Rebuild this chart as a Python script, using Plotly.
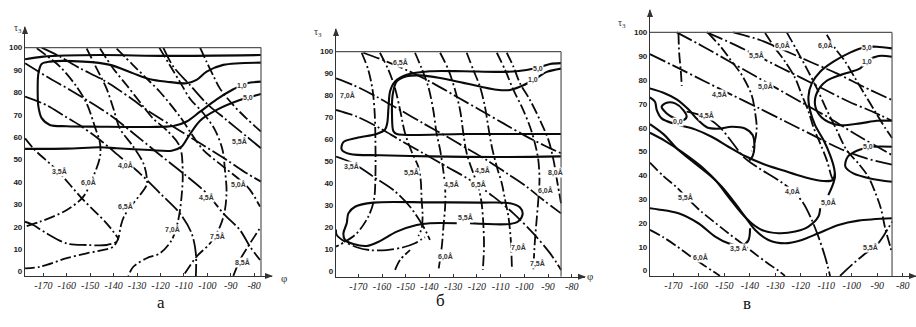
import plotly.graph_objects as go

W, H = 916, 327

# ======================= Panel а =======================
A_TOP = ([-177.8, -170.0, -145.8, -117.4, -77.1], [94.8, 96.0, 96.7, 96.3, 96.7])
A_E10 = ([-77.1, -93.2, -100.3, -104.6, -108.8, -117.4, -124.5, -131.6, -141.5, -152.9, -167.2, -170.7, -172.1,
          -172.4, -172.1, -170.7, -167.2, -160.0, -145.8, -124.5, -114.5, -108.8, -103.1, -96.0, -88.9, -83.2, -77.1],
         [93.3, 92.3, 89.3, 85.6, 84.1, 84.8, 85.9, 88.5, 92.3, 93.75, 93.75, 92.7, 88.5,
          79.6, 73.7, 68.5, 65.5, 64.9, 64.7, 64.6, 65.0, 67.0, 71.4, 76.9, 81.4, 84.1, 84.8])
A_E50 = ([-77.1, -86.1, -96.0, -103.1, -108.1, -111.0, -115.2, -124.5, -138.7, -145.8, -160.0, -177.8],
         [79.3, 76.6, 72.2, 67.4, 60.3, 55.8, 54.0, 54.3, 55.1, 55.5, 54.9, 54.8])
A_D35 = ([-177.8, -173.6, -164.3, -152.9, -143.0, -138.0], [59.5, 54.3, 45.4, 32.0, 21.6, 14.9])
A_D60 = ([-172.8, -162.9, -155.8, -151.5, -148.0, -145.8, -145.8, -148.7, -152.9, -160.0, -171.4, -177.8],
         [99.7, 91.5, 82.6, 75.1, 64.7, 57.3, 51.3, 42.4, 33.5, 27.5, 22.3, 20.1])
A_HOOK = ([-177.8, -174.3, -168.6, -160.0, -151.5, -143.0, -138.7, -138.0],
          [22.3, 20.8, 17.1, 12.6, 11.9, 11.9, 13.4, 14.9])
A_D65 = ([-151.5, -147.2, -143.0, -140.1, -137.3, -131.6, -127.3, -125.9, -125.9, -131.6, -135.6, -137.0, -138.0,
          -140.1, -145.8, -151.5, -160.0, -171.4, -177.8],
         [99.6, 90.6, 81.7, 72.8, 63.8, 55.8, 48.4, 42.4, 38.7, 30.5, 24.6, 20.1, 14.9,
          11.2, 9.4, 8.2, 6.0, 2.2, 1.5])
A_D70 = ([-145.8, -140.1, -134.4, -128.8, -123.1, -117.4, -111.7, -110.5, -111.0, -112.4, -115.2, -120.2, -125.9, -131.6, -133.7],
         [99.6, 90.6, 83.2, 75.7, 68.3, 63.2, 55.8, 43.9, 33.5, 23.1, 14.1, 8.2, 6.0, 2.2, -1.9])
A_D50 = ([-138.7, -131.6, -125.9, -120.2, -111.7, -106.0, -101.7, -93.2, -86.1, -81.8, -77.5],
         [99.6, 92.1, 86.2, 80.2, 69.2, 60.3, 54.3, 46.9, 40.9, 36.5, 29.0])
A_D75 = ([-120.5, -116.0, -111.7, -107.4, -101.7, -96.7, -93.5, -92.5, -91.8, -92.5, -94.6, -98.9, -104.6, -110.3],
         [100.0, 92.1, 84.7, 77.2, 70.7, 63.2, 54.3, 45.4, 36.5, 27.5, 20.1, 12.6, 6.7, -1.9])
A_D55 = ([-118.8, -114.5, -107.4, -100.3, -91.8, -83.2, -77.1], [100.0, 91.5, 83.3, 75.1, 67.7, 60.3, 55.1])
A_DTR = ([-103.1, -100.3, -97.5, -94.6, -88.9, -83.2, -77.1], [100.0, 93.6, 87.6, 81.7, 74.3, 68.3, 62.5])
A_DIAG = ([-170.7, -162.9, -154.4, -145.8, -138.7, -131.6, -125.9, -114.5, -103.1, -91.8, -83.2, -77.1],
          [100.0, 96.0, 90.8, 86.3, 81.8, 76.6, 72.2, 64.7, 57.3, 49.9, 43.9, 40.2])
A_D45 = ([-177.8, -168.6, -158.6, -151.5, -141.5, -131.6, -120.2, -110.3, -100.3, -93.2, -86.1, -81.8, -77.5],
         [93.0, 87.1, 81.1, 76.6, 69.9, 61.8, 52.1, 43.9, 35.0, 26.0, 18.6, 11.2, 5.2])
A_D40 = ([-177.8, -168.6, -161.5, -154.4, -145.8, -137.3, -128.8, -120.2, -111.7, -106.7, -104.9, -104.9],
         [78.1, 74.3, 69.8, 65.3, 58.8, 51.3, 43.9, 35.0, 26.0, 17.1, 8.2, -1.9])
A_D85 = ([-88.9, -86.1, -81.8, -79.0, -77.1], [-1.9, 5.2, 12.6, 17.1, 20.1])

A_CURVES = [("solid", A_TOP), ("solid", A_E10), ("solid", A_E50),
            ("dashdot", A_D35), ("dashdot", A_D60), ("dash", A_HOOK), ("dashdot", A_D65),
            ("dashdot", A_D70), ("dashdot", A_D50), ("dashdot", A_D75), ("dash", A_D55),
            ("dashdot", A_DTR), ("dash", A_DIAG), ("dash", A_D45), ("dash", A_D40), ("dashdot", A_D85)]
A_LABELS = [("1,0", -85.2, 82.9), ("5,0", -82.6, 77.5), ("5,5Å", -86.1, 57.9), ("3,5Å", -162.9, 44.5),
            ("4,0Å", -135.1, 47.6), ("6,0Å", -150.9, 39.6), ("5,0Å", -86.9, 38.7), ("4,5Å", -100.2, 33.3),
            ("6,5Å", -135.1, 28.9), ("7,0Å", -114.7, 18.6), ("7,5Å", -95.5, 15.5), ("8,5Å", -84.8, 4.3)]

# ======================= Panel б =======================
B_E50 = ([-84.5, -111.6, -139.8, -160.9, -173.5, -177.0, -176.3, -170.7, -162.3, -158.8, -157.8, -157.3, -156.6,
          -154.5, -149.6, -139.8, -125.7, -111.6, -103.2, -94.8, -89.1, -84.5],
         [52.4, 52.1, 52.4, 52.9, 53.5, 55.5, 58.9, 60.8, 62.6, 64.5, 67.6, 74.4, 82.0,
          86.5, 89.5, 91.1, 91.1, 90.8, 91.1, 92.6, 94.4, 94.8])
B_E10 = ([-84.5, -125.7, -153.8, -155.2, -155.8, -155.5, -153.8, -149.6, -144.0, -135.5, -125.7, -118.7, -111.6,
          -106.0, -100.4, -94.8, -90.5, -84.5],
         [62.6, 62.6, 62.6, 63.8, 71.4, 80.5, 86.5, 88.8, 89.2, 88.0, 85.8, 84.2, 82.7,
          82.6, 84.7, 88.0, 90.8, 92.3])
B_LOOP = ([-128.5, -139.8, -145.4, -153.8, -160.9, -166.5, -172.1, -175.6, -176.3, -174.9, -174.2, -171.4, -163.7,
           -139.8, -118.7, -106.0, -101.8, -100.7, -102.5, -106.0, -122.9],
          [22.0, 22.0, 21.2, 18.2, 13.9, 11.7, 12.6, 14.4, 17.4, 22.0, 26.5, 29.5, 31.4,
           31.5, 31.4, 31.1, 29.2, 26.2, 22.9, 21.7, 22.0])
B_HOOK = ([-179.4, -179.1, -175.6, -170.7, -165.1, -158.0, -151.0, -146.1, -143.3, -141.9],
          [19.2, 16.7, 13.6, 11.1, 9.8, 9.8, 11.1, 12.9, 14.7, 15.6])
B_D1 = ([-168.6, -165.8, -164.0, -163.1, -162.8, -162.8, -163.4, -165.8, -170.7, -175.6, -179.4],
        [99.5, 91.7, 82.6, 72.0, 59.8, 43.2, 32.6, 25.0, 17.4, 13.6, 11.4])
B_D2 = ([-160.9, -157.3, -154.5, -152.4, -150.3, -147.5, -144.7, -143.7, -143.3, -142.9, -143.3, -144.7],
        [99.5, 91.7, 83.3, 73.5, 62.9, 54.5, 47.7, 41.7, 32.6, 25.8, 19.7, 16.2])
B_D3 = ([-146.1, -143.3, -140.5, -138.4, -137.0, -135.5, -134.4, -133.4, -133.4, -134.1, -134.8, -136.2],
        [99.5, 92.4, 84.1, 73.5, 62.9, 55.3, 47.7, 38.6, 29.5, 20.5, 11.4, 0.8])
B_D4 = ([-135.5, -132.0, -129.2, -127.1, -125.7, -124.3, -121.5, -119.4, -118.0, -117.3, -117.0, -117.5],
        [99.5, 91.7, 82.6, 73.5, 62.9, 53.8, 44.7, 38.6, 31.1, 22.0, 11.4, 0.8])
B_D5 = ([-124.3, -121.5, -118.7, -116.6, -115.2, -113.7, -111.6, -109.5, -108.1, -106.7, -105.7, -105.2],
        [99.5, 91.7, 84.1, 75.0, 65.9, 56.8, 47.7, 40.2, 32.6, 25.0, 14.4, 0.8])
B_D6 = ([-111.6, -108.1, -104.6, -101.1, -97.6, -95.5, -94.1, -93.6, -94.1, -94.8, -95.5, -96.2],
        [99.5, 91.7, 82.6, 75.0, 65.9, 58.3, 50.8, 41.7, 32.6, 23.5, 14.4, 0.8])
B_D7 = ([-107.4, -104.6, -101.8, -97.6, -93.4, -89.8, -87.7, -86.0, -84.5],
        [99.5, 93.2, 85.6, 78.0, 68.9, 59.8, 50.8, 40.2, 31.1])
B_S1 = ([-179.4, -172.1, -162.3, -152.4, -142.6, -132.7, -124.3, -115.9, -107.4, -99.0, -92.0, -84.5],
        [87.9, 84.8, 79.5, 73.5, 67.4, 61.4, 56.1, 50.8, 44.7, 38.6, 32.6, 26.5])
B_S2 = ([-167.9, -158.0, -148.2, -138.4, -128.5, -118.7, -108.8, -99.0, -90.5, -84.5],
        [99.5, 95.5, 90.9, 85.6, 79.5, 73.5, 67.4, 61.4, 56.8, 53.8])
B_S3 = ([-179.4, -170.7, -160.9, -152.4, -142.6, -132.7, -122.9, -113.0, -104.6, -96.2, -89.1, -84.5],
        [73.5, 70.5, 65.2, 59.8, 53.8, 47.7, 41.7, 34.1, 26.5, 17.4, 8.3, 0.8])
B_S4 = ([-179.4, -172.1, -163.7, -155.2, -148.2, -142.6, -139.8], [52.3, 49.2, 43.2, 37.1, 29.5, 20.5, 14.4])
B_S5 = ([-154.5, -152.4, -148.2], [0.8, 5.3, 9.8])

B_CURVES = [("solid", B_E50), ("solid", B_E10), ("solid", B_LOOP), ("dash", B_HOOK),
            ("dashdot", B_D1), ("dashdot", B_D2), ("dashdot", B_D3), ("dashdot", B_D4), ("dashdot", B_D5),
            ("dashdot", B_D6), ("dashdot", B_D7), ("dash", B_S1), ("dash", B_S2), ("dash", B_S3),
            ("dash", B_S4), ("dashdot", B_S5)]
B_LABELS = [("6,5Å", -152.4, 94.9), ("5,0", -94.2, 92.1), ("1,0", -96.3, 87.1), ("7,0Å", -174.4, 80.3),
            ("3,5Å", -172.7, 47.6), ("5,5Å", -147.4, 44.9), ("4,5Å", -130.5, 39.4), ("6,5Å", -119.5, 39.4),
            ("4,5Å", -117.8, 46.2), ("8,0Å", -87.0, 45.3), ("6,0Å", -91.2, 37.1), ("5,5Å", -125.0, 24.8),
            ("7,0Å", -102.6, 10.8), ("6,0Å", -133.4, 6.7), ("7,5Å", -94.6, 3.9)]

# ======================= Panel в =======================
C_E00 = ([-174.6, -172.6, -169.3, -166.1, -164.8, -166.1, -169.3, -172.6, -174.6],
         [68.8, 70.5, 70.2, 67.4, 64.6, 63.2, 63.9, 66.0, 68.8])
C_BUB = ([-179.2, -173.9, -168.7, -164.1, -160.6, -156.7, -152.3, -147.1, -141.9, -138.9, -138.2, -138.9, -140.2],
         [76.5, 74.7, 71.9, 67.7, 63.5, 60.1, 59.6, 60.4, 59.7, 56.9, 52.0, 48.1, 46.2])
C_MID = ([-179.2, -177.2, -176.5, -174.6, -169.3, -161.5, -155.0, -148.4, -141.9, -134.7, -126.8, -119.0, -111.1, -107.5, -106.6],
         [72.7, 70.9, 67.4, 63.9, 61.5, 59.3, 56.2, 52.0, 48.1, 44.8, 42.0, 39.4, 37.6, 38.0, 40.8])
C_E50 = ([-84.2, -90.2, -95.4, -100.7, -107.2, -112.4, -115.7, -117.0, -116.4, -114.4, -111.1, -108.5, -106.9, -106.6, -107.5, -109.2],
         [93.3, 94.0, 93.7, 91.5, 87.7, 83.5, 78.6, 73.0, 67.4, 61.1, 54.8, 48.5, 42.9, 39.4, 35.9, 31.7])
C_E10 = ([-84.2, -89.5, -93.5, -96.7, -103.3, -109.8, -113.5, -114.4, -111.8, -105.2, -96.7, -90.2, -84.2],
         [89.8, 90.1, 88.4, 84.9, 82.5, 79.7, 75.1, 69.5, 64.3, 61.1, 61.8, 62.9, 62.9])
C_E5S = ([-84.2, -91.5, -98.0, -101.7, -102.5, -99.4, -92.8, -84.2],
         [52.0, 52.0, 50.3, 47.6, 43.6, 40.8, 38.7, 37.3])
C_UP = ([-179.2, -173.9, -168.0, -161.5, -153.6, -148.4, -143.2, -139.3, -135.3, -128.8, -122.2, -117.0, -113.1, -112.4],
        [61.5, 57.3, 50.6, 45.0, 38.0, 31.0, 24.1, 19.9, 17.1, 15.7, 16.4, 18.5, 22.7, 26.2])
C_LOW = ([-179.2, -173.3, -166.7, -158.9, -151.0, -145.8, -141.9, -137.9, -132.7, -126.2, -119.6, -113.1, -105.2, -97.4, -84.2],
         [57.9, 54.5, 49.9, 43.6, 35.2, 28.3, 22.7, 17.1, 12.9, 11.5, 12.9, 15.7, 19.2, 21.0, 22.0])
C_E35 = ([-179.2, -175.9, -168.0, -160.2, -153.6, -148.4, -143.2, -140.6, -139.9],
         [26.2, 25.7, 24.1, 19.9, 14.3, 11.5, 10.5, 12.6, 17.8])
C_V1 = ([-168.0, -167.7, -167.1, -166.7], [99.6, 91.2, 84.2, 77.5])
C_D45 = ([-179.2, -168.0, -157.6, -147.1, -136.6, -126.2, -115.7, -105.2, -94.8, -84.2],
         [90.9, 85.0, 79.4, 73.8, 68.3, 62.7, 57.1, 51.5, 47.3, 44.5])
C_D50 = ([-168.7, -158.2, -147.8, -138.6, -129.4, -119.0, -108.5, -98.0, -84.2],
         [100.0, 94.0, 87.7, 82.1, 76.5, 70.2, 63.9, 56.9, 48.5])
C_D55 = ([-156.9, -147.1, -137.9, -128.8, -119.6, -110.5, -101.3, -92.2, -84.2],
         [100.0, 95.4, 90.6, 85.7, 80.8, 75.9, 71.0, 66.9, 62.9])
C_D60 = ([-146.5, -136.0, -126.8, -116.4, -105.9, -95.4, -84.2], [100.0, 96.8, 92.6, 87.7, 82.8, 77.2, 71.6])
C_S300 = ([-156.3, -151.0, -147.1, -143.2, -139.3, -138.0, -137.3, -138.0, -139.3],
          [99.7, 93.4, 87.8, 82.2, 73.8, 66.9, 59.9, 54.3, 50.1])
C_S465 = ([-134.0, -130.1, -126.2, -122.2, -119.6, -117.0, -115.1, -112.4, -109.8, -107.9, -106.9],
          [99.7, 93.4, 87.8, 80.8, 73.8, 66.9, 60.4, 53.4, 46.4, 39.4, 37.3])
C_D40 = ([-164.8, -156.9, -151.7, -147.1, -142.5, -137.3, -128.8, -123.6, -119.0, -115.7, -113.1, -110.5, -108.5],
         [66.7, 64.3, 60.1, 54.1, 47.8, 43.6, 38.0, 33.8, 28.3, 21.3, 14.3, 5.9, -2.2])
C_S650 = ([-109.8, -106.6, -102.6, -98.7, -94.8, -90.9, -86.9, -84.2], [99.0, 93.4, 87.8, 80.8, 73.8, 66.9, 59.9, 55.7])
C_S530 = ([-125.5, -121.6, -117.7, -113.7, -109.8, -105.9, -102.0, -97.4, -93.5, -90.9, -88.6, -86.9, -84.9, -84.2],
          [100.0, 92.6, 84.9, 76.5, 67.4, 59.0, 50.6, 45.0, 39.4, 33.1, 26.2, 17.8, 10.1, 7.3])
C_D55B = ([-179.2, -173.9, -168.7, -164.1, -159.5, -154.3, -148.4, -143.2, -138.6, -133.4, -128.8, -126.2],
          [45.3, 39.7, 35.0, 29.9, 25.2, 20.7, 15.7, 11.5, 7.6, 3.4, 0.0, -2.2])
C_D60B = ([-179.2, -173.9, -168.7, -163.5, -158.2, -154.3, -151.7], [17.1, 14.0, 10.3, 6.2, 2.4, -0.4, -2.2])
C_D55R = ([-104.6, -100.0, -95.4, -90.2, -86.9, -84.2], [-2.2, 2.4, 6.6, 10.8, 15.7, 20.6])

C_CURVES = [("solid", C_E00), ("solid", C_BUB), ("solid", C_MID), ("solid", C_E50), ("solid", C_E10),
            ("solid", C_E5S), ("solid", C_UP), ("solid", C_LOW), ("solid", C_E35),
            ("dashdot", C_V1), ("dash", C_D45), ("dash", C_D50), ("dash", C_D55), ("dash", C_D60),
            ("dashdot", C_S300), ("dashdot", C_S465), ("dash", C_D40), ("dashdot", C_S650),
            ("dashdot", C_S530), ("dashdot", C_D55B), ("dashdot", C_D60B), ("dash", C_D55R)]
C_LABELS = [("6,0Å", -127.0, 94.7), ("6,0Å", -110.5, 94.7), ("5,5Å", -137.2, 90.5), ("5,0", -94.0, 93.5),
            ("1,0", -94.0, 87.6), ("5,0Å", -134.0, 77.5), ("4,5Å", -151.7, 74.1), ("4,5Å", -156.8, 65.3),
            ("0,0", -168.2, 62.4), ("5,0", -93.6, 51.9), ("4,0Å", -123.4, 33.4), ("5,0Å", -109.3, 28.8),
            ("5,5Å", -165.4, 30.5), ("3,5 Å", -144.6, 9.5), ("6,0Å", -159.5, 5.7), ("5,5Å", -92.8, 9.9)]

PHI_TICKS = [-170, -160, -150, -140, -130, -120, -110, -100, -90, -80]
TAU_TICKS = [0, 10, 20, 30, 40, 50, 60, 70, 80, 90, 100]
CAPTIONS = ["а", "б", "в"]

# ---------------- layout geometry (pixels) ----------------
PANELS = [
    dict(px=(25, 272), py=(276, 27), xr=(-177.82, -72.4), yr=(-1.93, 109.2), right=-77.1,
         curves=A_CURVES, labels=A_LABELS, tau_lbl=(24, 20), phi_lbl=(279, 286), cap=(155, 314)),
    dict(px=(336, 585), py=(276.67, 29), xr=(-179.42, -74.4), yr=(-2.27, 110.3), right=-84.5,
         curves=B_CURVES, labels=B_LABELS, tau_lbl=(324, 24), phi_lbl=(590, 284), cap=(440, 312)),
    dict(px=(650, 916), py=(276, 10), xr=(-179.16, -74.8), yr=(-2.24, 109.4), right=-84.2,
         curves=C_CURVES, labels=C_LABELS, tau_lbl=(628, 15), phi_lbl=None, cap=(753, 315)),
]

STYLES = {
    "solid": dict(color="#0a0a0a", width=2.1),
    "dashdot": dict(color="#0a0a0a", width=1.8, dash="11px,3px,2px,3px"),
    "dash": dict(color="#0a0a0a", width=1.8, dash="17px,3px,2px,3px"),
}

fig = go.Figure()
layout = dict(width=W, height=H, margin=dict(l=0, r=0, t=0, b=0),
              paper_bgcolor="white", plot_bgcolor="white", showlegend=False)
annotations = []
shapes = []


def px2paper(x, y):
    return x / W, 1 - y / H


def tri_path(pts):
    pp = [px2paper(x, y) for x, y in pts]
    return "M {:.5f},{:.5f} L {:.5f},{:.5f} L {:.5f},{:.5f} Z".format(*pp[0], *pp[1], *pp[2])


for i, p in enumerate(PANELS):
    sfx = "" if i == 0 else str(i + 1)
    xa, ya = "x" + sfx, "y" + sfx
    for style, (phi, tau) in p["curves"]:
        fig.add_trace(go.Scatter(x=phi, y=tau, mode="lines", xaxis=xa, yaxis=ya,
                                 line=dict(shape="spline", smoothing=0.9, **STYLES[style]),
                                 hoverinfo="skip"))
    x0, x1 = p["px"]
    yb, yt = p["py"]
    layout["xaxis" + sfx] = dict(
        domain=[x0 / W, x1 / W], range=list(p["xr"]), anchor=ya,
        showline=True, linecolor="#333", linewidth=1.2, showgrid=False, zeroline=False,
        tickvals=PHI_TICKS, ticktext=[str(v) for v in PHI_TICKS],
        ticks="inside", ticklen=3, tickcolor="#333",
        tickfont=dict(family="Liberation Serif", size=10, style="italic", color="#222"))
    layout["yaxis" + sfx] = dict(
        domain=[1 - yb / H, 1 - yt / H], range=list(p["yr"]), anchor=xa,
        showline=True, linecolor="#333", linewidth=1.2, showgrid=False, zeroline=False,
        tickvals=TAU_TICKS, ticks="", ticklen=0,
        tickfont=dict(family="Liberation Sans", size=8, weight="bold", color="#222"))
    # frame top / right
    shapes.append(dict(type="line", xref=xa, yref=ya, x0=p["xr"][0], x1=p["right"], y0=100, y1=100,
                       line=dict(color="#555", width=1.2)))
    shapes.append(dict(type="line", xref=xa, yref=ya, x0=p["right"], x1=p["right"], y0=p["yr"][0], y1=100,
                       line=dict(color="#555", width=1.2)))
    # axis arrowheads
    shapes.append(dict(type="path", xref="paper", yref="paper", line=dict(width=0), fillcolor="#333",
                       path=tri_path([(x1 + 1, yb), (x1 - 7, yb - 3), (x1 - 7, yb + 3)])))
    shapes.append(dict(type="path", xref="paper", yref="paper", line=dict(width=0), fillcolor="#333",
                       path=tri_path([(x0, yt - 1), (x0 - 3, yt + 7), (x0 + 3, yt + 7)])))
    # axis titles
    lx, ly = px2paper(*p["tau_lbl"])
    annotations.append(dict(x=lx, y=ly, xref="paper", yref="paper", text="τ<sub>3</sub>", showarrow=False,
                            xanchor="right", font=dict(family="Liberation Serif", size=10, color="#333")))
    if p["phi_lbl"]:
        lx, ly = px2paper(*p["phi_lbl"])
        annotations.append(dict(x=lx, y=ly, xref="paper", yref="paper", text="φ", showarrow=False,
                                font=dict(family="Liberation Serif", size=11, color="#333")))
    cx, cy = px2paper(*p["cap"])
    annotations.append(dict(x=cx, y=cy, xref="paper", yref="paper", text=CAPTIONS[i], showarrow=False,
                            font=dict(family="Liberation Serif", size=17, color="#111")))
    for txt, lp, lt in p["labels"]:
        annotations.append(dict(x=lp, y=lt, xref=xa, yref=ya, text=txt, showarrow=False,
                                bgcolor="white", borderpad=0,
                                font=dict(family="Liberation Sans", size=7, weight="bold", color="#333")))

layout["annotations"] = annotations
layout["shapes"] = shapes
fig.update_layout(**layout)
fig.write_html("out.html", config={"displayModeBar": False},
               post_script="document.body.style.margin='0';document.body.style.overflow='hidden';")
